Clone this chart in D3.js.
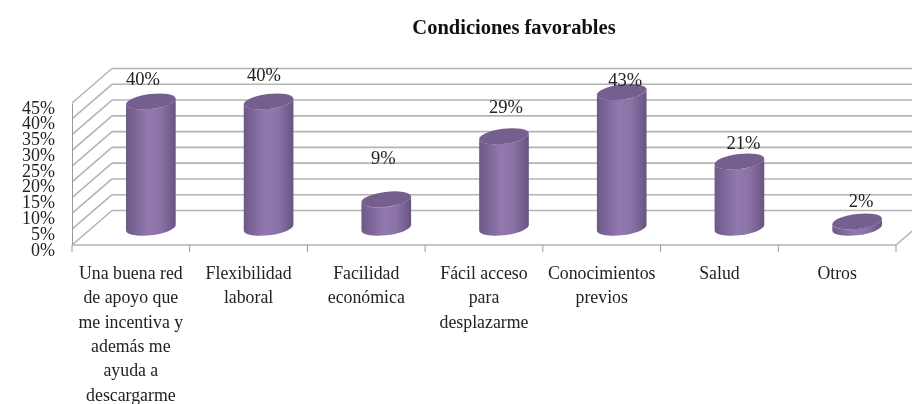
<!DOCTYPE html>
<html>
<head>
<meta charset="utf-8">
<script src="https://cdn.jsdelivr.net/npm/d3@7"></script>
<style>
  html, body { margin: 0; padding: 0; background: #fff; }
  svg { display: block; filter: blur(0.35px); }
  text { font-family: "Liberation Serif", serif; fill: #222; }
</style>
</head>
<body>
<div id="chart"></div>
<script>
const titleText = "Condiciones favorables";
const categories = [
  ["Una buena red", "de apoyo que", "me incentiva y", "además me", "ayuda a", "descargarme"],
  ["Flexibilidad", "laboral"],
  ["Facilidad", "económica"],
  ["Fácil acceso", "para", "desplazarme"],
  ["Conocimientos", "previos"],
  ["Salud"],
  ["Otros"]
];
const values = [40, 40, 9, 29, 43, 21, 2];
const yTicks = [0, 5, 10, 15, 20, 25, 30, 35, 40, 45];

const width = 912, height = 404;
// oblique offset of the back wall from the front plane
const depthX = 40, depthY = -34.5;
// data labels were moved by hand in the original, relative to each bar top
const labelNudge = [[-8, -23], [-4.5, -27], [-3, -42], [2, -30], [3.5, -13], [4, -19], [4, -21]];

const svg = d3.select("#chart").append("svg")
  .attr("width", width)
  .attr("height", height);

const x = d3.scaleBand().domain(d3.range(categories.length)).range([72, 896]).padding(0);
const y = d3.scaleLinear().domain([0, 45]).range([245, 103]);

const defs = svg.append("defs");
const grad = defs.append("linearGradient").attr("id", "cyl");
grad.append("stop").attr("offset", "0%").attr("stop-color", "#6d5886");
grad.append("stop").attr("offset", "45%").attr("stop-color", "#9279b0");
grad.append("stop").attr("offset", "70%").attr("stop-color", "#8a72a6");
grad.append("stop").attr("offset", "100%").attr("stop-color", "#695383");

// title
svg.append("text")
  .attr("x", 514).attr("y", 34)
  .attr("text-anchor", "middle")
  .attr("font-size", 20.5).attr("font-weight", "bold")
  .style("fill", "#111")
  .text(titleText);

// walls
const gridColor = "#b4b4b4";
const grid = svg.append("g").attr("fill", "none").attr("stroke", gridColor).attr("stroke-width", 1.6);
yTicks.forEach(t => {
  grid.append("line")
    .attr("x1", x.range()[0] + depthX).attr("x2", x.range()[1] + depthX)
    .attr("y1", y(t) + depthY).attr("y2", y(t) + depthY);
  grid.append("line")
    .attr("x1", x.range()[0]).attr("x2", x.range()[0] + depthX)
    .attr("y1", y(t)).attr("y2", y(t) + depthY);
});
grid.append("line")
  .attr("x1", x.range()[1]).attr("x2", x.range()[1] + depthX)
  .attr("y1", y(0)).attr("y2", y(0) + depthY);

// value axis
const yAxis = svg.append("g")
  .attr("transform", `translate(${x.range()[0]},0)`)
  .call(d3.axisLeft(y).tickValues(yTicks).tickSize(0).tickPadding(17).tickFormat(d => d + "%"));
yAxis.select(".domain").attr("stroke", "#999");
yAxis.selectAll("text").attr("font-size", 18).attr("dy", "0.56em").style("font-family", "Liberation Serif");

// category axis
const xAxis = svg.append("g")
  .attr("transform", `translate(0,${y(0)})`);
xAxis.append("line")
  .attr("x1", x.range()[0]).attr("x2", x.range()[1])
  .attr("stroke", gridColor).attr("stroke-width", 1.6);
d3.range(categories.length + 1).forEach(i => {
  const px = i < categories.length ? x(i) : x.range()[1];
  xAxis.append("line")
    .attr("x1", px).attr("x2", px)
    .attr("y1", 0).attr("y2", 7)
    .attr("stroke", "#999");
});

const catLabels = svg.append("g").attr("text-anchor", "middle").attr("font-size", 17.8);
categories.forEach((lines, i) => {
  const t = catLabels.append("text").attr("x", x(i) + x.bandwidth() / 2);
  lines.forEach((line, j) => {
    t.append("tspan")
      .attr("x", x(i) + x.bandwidth() / 2)
      .attr("y", 279 + j * 24.3)
      .text(line);
  });
});

// tilted cylinders
const rx = 25, ry = 7.5, tilt = -7;
const rad = tilt * Math.PI / 180;
const edgeX = Math.sqrt(rx * rx * Math.cos(rad) ** 2 + ry * ry * Math.sin(rad) ** 2);
const edgeY = (rx * rx - ry * ry) * Math.sin(rad) * Math.cos(rad) / edgeX;

const bars = svg.append("g");
values.forEach((v, i) => {
  const cx = x(i) + x.bandwidth() / 2 + depthX / 2;
  const base = y(0) + depthY / 2;
  const top = base - (y(0) - y(v));
  bars.append("path")
    .attr("d", `M${cx - edgeX},${top - edgeY}` +
      `L${cx - edgeX},${base - edgeY}` +
      `A${rx},${ry},${tilt},0,0,${cx + edgeX},${base + edgeY}` +
      `L${cx + edgeX},${top + edgeY}` +
      `A${rx},${ry},${tilt},0,1,${cx - edgeX},${top - edgeY}Z`)
    .attr("fill", "url(#cyl)");
  bars.append("ellipse")
    .attr("cx", 0).attr("cy", 0)
    .attr("rx", rx).attr("ry", ry)
    .attr("transform", `translate(${cx},${top}) rotate(${tilt})`)
    .attr("fill", "#755f8e");
  svg.append("text")
    .attr("x", cx + labelNudge[i][0])
    .attr("y", top + labelNudge[i][1])
    .attr("dy", "0.35em")
    .attr("text-anchor", "middle")
    .attr("font-size", 18.5)
    .text(v + "%");
});
</script>
</body>
</html>
